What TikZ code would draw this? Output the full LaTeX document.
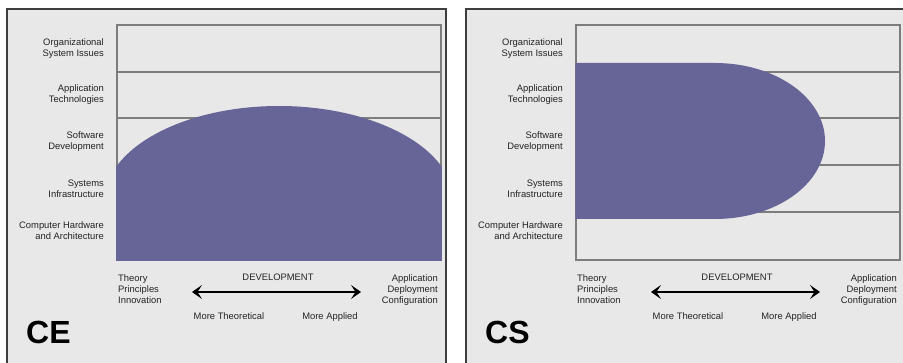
\documentclass[tikz,border=0pt]{standalone}
\usepackage{fontspec}
\setmainfont{Liberation Sans}
\usetikzlibrary{arrows.meta}
\definecolor{panelbg}{RGB}{232, 232, 232}
\definecolor{framegray}{RGB}{62, 62, 62}
\definecolor{gridgray}{RGB}{125, 125, 125}
\definecolor{mpurple}{RGB}{103, 101, 151}
\definecolor{inkgray}{RGB}{35, 35, 35}
\tikzset{panel/.style = {draw = framegray, line width = 1.8, fill = panelbg}}
\tikzset{grid/.style = {draw = gridgray, line width = 1.3}}
\tikzset{blob/.style = {fill = mpurple}}
\tikzset{lbl/.style = {inner sep = 0, text = inkgray, align = right, anchor = east,
                       font = \fontsize{9.4}{11}\selectfont}}
\tikzset{small/.style = {inner sep = 0, text = inkgray, font = \fontsize{9.4}{11}\selectfont}}
\tikzset{tag/.style = {inner sep = 0, anchor = base west, font = \fontsize{32}{32}\selectfont\bfseries}}
\tikzset{devarrow/.style = {line width = 2.4, {Stealth[length=10, width=14, inset=4.5]}-{Stealth[length=10, width=14, inset=4.5]}}}

\begin{document}
\begin{tikzpicture}[x = 1pt, y = -1pt]
    \useasboundingbox [fill = white] (0, 0) rectangle (903, 363);

    % CE panel
    \draw [panel] (7, 9) rectangle (446, 380);
    \draw [grid] (117, 25) rectangle (441, 260);
    \draw [grid] (117, 72) -- (441, 72);
    \draw [grid] (117, 118) -- (441, 118);
    \draw [grid] (117, 165) -- (441, 165);
    \draw [grid] (117, 212) -- (441, 212);
    \begin{scope}
      \clip (116.2, 25) rectangle (441.8, 260.8);
      \fill [blob] (279, 202) ellipse [x radius = 175pt, y radius = 96pt];
      \fill [blob] (116, 202) rectangle (442, 260.8);
    \end{scope}

    \node [lbl] (ce-org) at (104, 48.5) {Organizational\\System Issues};
    \node [lbl] (ce-app) at (104, 95) {Application\\Technologies};
    \node [lbl] (ce-soft) at (104, 141.5) {Software\\Development};
    \node [lbl] (ce-sys) at (104, 189) {Systems\\Infrastructure};
    \node [lbl] (ce-hw) at (104, 231) {Computer Hardware\\and Architecture};

    \node [small, anchor = north west, align = left] (ce-theory) at (118, 274) {Theory\\Principles\\Innovation};
    \node [small, anchor = north] (ce-dev) at (278, 274) {DEVELOPMENT};
    \node [small, anchor = north east, align = right] (ce-deploy) at (438, 274) {Application\\Deployment\\Configuration};
    \node [small, anchor = north] (ce-theo) at (229, 312) {More Theoretical};
    \node [small, anchor = north] (ce-appl) at (330, 312) {More Applied};
    \coordinate (ce-left) at (192, 292);
    \coordinate (ce-right) at (361, 292);
    \draw [devarrow] (ce-left) -- (ce-right);
    \node [tag] (ce-tag) at (26, 344) {CE};

    % CS panel
    \draw [panel] (466, 9) rectangle (920, 380);
    \draw [grid] (576, 25) rectangle (900, 260);
    \draw [grid] (576, 72) -- (900, 72);
    \draw [grid] (576, 118) -- (900, 118);
    \draw [grid] (576, 165) -- (900, 165);
    \draw [grid] (576, 212) -- (900, 212);
    \fill [blob] (575.3, 63) -- (715, 63)
        arc [start angle = 90, end angle = -90, x radius = 110pt, y radius = 78pt]
        -- (575.3, 219) -- cycle;

    \node [lbl] (cs-org) at (563, 48.5) {Organizational\\System Issues};
    \node [lbl] (cs-app) at (563, 95) {Application\\Technologies};
    \node [lbl] (cs-soft) at (563, 141.5) {Software\\Development};
    \node [lbl] (cs-sys) at (563, 189) {Systems\\Infrastructure};
    \node [lbl] (cs-hw) at (563, 231) {Computer Hardware\\and Architecture};

    \node [small, anchor = north west, align = left] (cs-theory) at (577, 274) {Theory\\Principles\\Innovation};
    \node [small, anchor = north] (cs-dev) at (737, 274) {DEVELOPMENT};
    \node [small, anchor = north east, align = right] (cs-deploy) at (897, 274) {Application\\Deployment\\Configuration};
    \node [small, anchor = north] (cs-theo) at (688, 312) {More Theoretical};
    \node [small, anchor = north] (cs-appl) at (789, 312) {More Applied};
    \coordinate (cs-left) at (651, 292);
    \coordinate (cs-right) at (820, 292);
    \draw [devarrow] (cs-left) -- (cs-right);
    \node [tag] (cs-tag) at (485, 344) {CS};
  \end{tikzpicture}
\end{document}
